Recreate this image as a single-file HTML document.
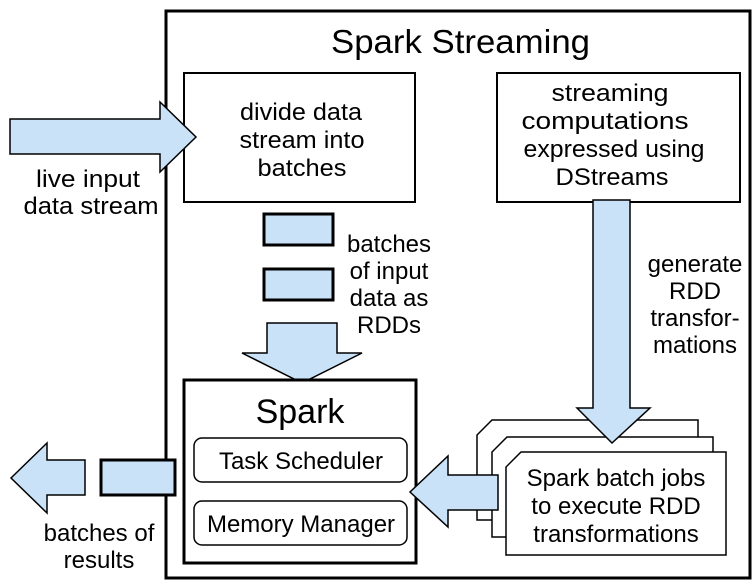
<!DOCTYPE html>
<html><head><style>body{margin:0;background:#fff}svg{display:block}text{font-family:"Liberation Sans",Arial,Helvetica,sans-serif;fill:#000}</style></head>
<body>
<svg width="756" height="587" viewBox="0 0 756 587" xmlns="http://www.w3.org/2000/svg">
<g stroke="#000" stroke-width="3" fill="#fff">
<rect x="166" y="11" width="584" height="567"/>
</g>
<g stroke="#000" stroke-width="2" fill="#fff">
<rect x="184" y="73" width="231" height="129"/>
<rect x="497" y="73" width="243" height="129"/>
</g>
<text x="331" y="53" font-size="33" textLength="259" lengthAdjust="spacingAndGlyphs">Spark Streaming</text>
<g font-size="24" text-anchor="middle">
<text x="301" y="120" textLength="122" lengthAdjust="spacingAndGlyphs">divide data</text>
<text x="302" y="148" textLength="125" lengthAdjust="spacingAndGlyphs">stream into</text>
<text x="302" y="176" textLength="89" lengthAdjust="spacingAndGlyphs">batches</text>
<text x="610" y="101" textLength="117" lengthAdjust="spacingAndGlyphs">streaming</text>
<text x="605" y="129" textLength="167" lengthAdjust="spacingAndGlyphs">computations</text>
<text x="614" y="157" textLength="181" lengthAdjust="spacingAndGlyphs">expressed using</text>
<text x="612" y="185" textLength="113" lengthAdjust="spacingAndGlyphs">DStreams</text>
<text x="88" y="187" textLength="104" lengthAdjust="spacingAndGlyphs">live input</text>
<text x="91" y="214" textLength="135" lengthAdjust="spacingAndGlyphs">data stream</text>
<text x="389" y="252">batches</text>
<text x="389" y="279">of input</text>
<text x="389" y="306">data as</text>
<text x="389" y="333">RDDs</text>
<text x="695" y="272">generate</text>
<text x="695" y="299">RDD</text>
<text x="695" y="326">transfor-</text>
<text x="695" y="353">mations</text>
<text x="99" y="541">batches of</text>
<text x="99" y="568">results</text>
</g>
<g stroke="#000" stroke-width="1.5" fill="#c9e2f8">
<polygon points="10,119 160,119 160,102 196,137 160,172 160,154 10,154"/>
<polygon points="267,323 337,323 337,353 362,353 302,383 242,353 267,353"/>
</g>
<g stroke="#000" stroke-width="3" fill="#c9e2f8">
<rect x="264" y="214" width="69" height="31"/>
<rect x="264" y="269" width="69" height="31"/>
<rect x="101" y="460" width="74" height="35"/>
</g>
<g stroke="#000" stroke-width="1.5" fill="#c9e2f8">
<polygon points="85,460 47,460 47,443 11,478 47,513 47,495 85,495"/>
</g>
<g stroke="#000" stroke-width="3" fill="#fff">
<rect x="184" y="380" width="232" height="183"/>
</g>
<text x="300" y="423" font-size="34" text-anchor="middle">Spark</text>
<g stroke="#000" stroke-width="1.5" fill="#fff">
<rect x="194" y="438" width="213" height="44" rx="8"/>
<rect x="194" y="501" width="213" height="44" rx="8"/>
</g>
<g font-size="24" text-anchor="middle">
<text x="301" y="469">Task Scheduler</text>
<text x="301" y="532">Memory Manager</text>
</g>
<g stroke="#000" stroke-width="1.5" fill="#fff">
<polygon points="492,420 698,420 698,520 477,520 477,435"/>
<polygon points="507,437 713,437 713,537 492,537 492,452"/>
<polygon points="521,452 726,452 726,555 506,555 506,467"/>
</g>
<g stroke="#000" stroke-width="1.5" fill="#c9e2f8">
<polygon points="498,475 448,475 448,456 410,492 448,527 448,510 498,510"/>
<polygon points="593,200 630,200 630,408 650,408 612,443 577,408 593,408"/>
</g>
<g font-size="24" text-anchor="middle">
<text x="616" y="486">Spark batch jobs</text>
<text x="616" y="514">to execute RDD</text>
<text x="616" y="542">transformations</text>
</g>
</svg>
</body></html>
